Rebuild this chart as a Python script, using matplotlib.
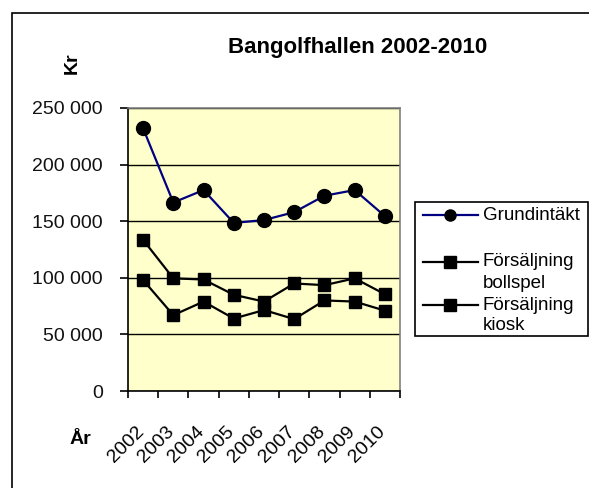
# Bangolfhallen 2002-2010

import numpy as np
import matplotlib.pyplot as plt
from matplotlib.lines import Line2D
from matplotlib.patches import Rectangle
from matplotlib.ticker import FuncFormatter
import matplotlib.transforms as mtransforms

plt.rcParams['font.family'] = ['Liberation Sans', 'DejaVu Sans']

years = ['2002', '2003', '2004', '2005', '2006', '2007', '2008', '2009', '2010']
grundintakt = [232000, 166500, 177500, 148500, 151000, 158000, 172500, 177500, 154500]
bollspel = [133500, 99500, 98500, 85000, 79000, 95000, 93500, 99500, 85500]
kiosk = [98000, 67000, 79000, 64000, 71500, 63500, 80000, 79000, 71000]

W, H = 589, 488
fig = plt.figure(figsize=(W / 100, H / 100), dpi=100)

def fx(x):
    return x / W

def fy(y):
    return 1 - y / H

# plot area in pixels: left 128, right 400, top 108, bottom 391
ax = fig.add_axes([fx(128), fy(391), fx(400) - fx(128), fy(108) - fy(391)])
ax.set_facecolor('#FFFFCC')

x = np.arange(len(years))
ax.plot(x, grundintakt, color='#000080', lw=1.6, marker='o', ms=10,
        mfc='black', mec='black', zorder=4)
ax.plot(x, bollspel, color='black', lw=1.6, marker='s', ms=9, zorder=4)
ax.plot(x, kiosk, color='black', lw=1.6, marker='s', ms=9, zorder=4)

ax.set_xlim(-0.5, len(years) - 0.5)
ax.set_ylim(0, 250000)
ax.set_yticks(np.arange(0, 250001, 50000))
ax.yaxis.set_major_formatter(FuncFormatter(lambda v, p: f'{int(v):,}'.replace(',', ' ')))
ax.grid(axis='y', color='black', lw=1)
ax.set_axisbelow(True)

ax.set_xticks(np.arange(-0.5, len(years), 1.0))
ax.set_xticklabels([])
ax.set_xticks(x, minor=True)
ax.set_xticklabels(years, minor=True, rotation=45, ha='right', va='top',
                   rotation_mode='anchor', fontsize=14)
ax.tick_params(axis='x', which='minor', length=0, pad=23)
ax.tick_params(axis='x', which='major', length=5, width=1.2, color='black')
ax.tick_params(axis='y', length=6, width=1.2, color='black', labelsize=14, pad=12)
shift = mtransforms.ScaledTranslation(-8 / 100, 0, fig.dpi_scale_trans)
for lab in ax.xaxis.get_minorticklabels():
    lab.set_transform(lab.get_transform() + shift)
for lab in ax.get_yticklabels():
    lab.set_color('#111111')

for side in ['top', 'right']:
    ax.spines[side].set_color('#808080')
    ax.spines[side].set_linewidth(1.2)
for side in ['left', 'bottom']:
    ax.spines[side].set_color('black')
    ax.spines[side].set_linewidth(1.2)

fig.text(fx(358), fy(48), 'Bangolfhallen 2002-2010', fontsize=16, fontweight='bold',
         ha='center', va='center')
fig.text(fx(72), fy(63), 'Kr', fontsize=14, fontweight='bold', rotation=90,
         ha='center', va='center')
fig.text(fx(80), fy(439), 'År', fontsize=14, fontweight='bold', ha='center', va='center')

# chart border (runs off the right and bottom edges)
fig.patches.append(Rectangle((fx(12), fy(700)), fx(800), fy(13) - fy(700),
                             transform=fig.transFigure, fill=False,
                             edgecolor='black', lw=1.2))

# legend box
fig.patches.append(Rectangle((fx(415), fy(336)), fx(588) - fx(415), fy(202) - fy(336),
                             transform=fig.transFigure, fill=False,
                             edgecolor='black', lw=1.2))
leg_rows = [(215, '#000080', 'o', ['Grundintäkt']),
            (262, 'black', 's', ['Försäljning', 'bollspel']),
            (305, 'black', 's', ['Försäljning', 'kiosk'])]
for yy, col, mk, lines in leg_rows:
    fig.lines.append(Line2D([fx(423), fx(450), fx(478)], [fy(yy)] * 3,
                            transform=fig.transFigure, color=col, lw=1.6,
                            marker=mk, markevery=[1], ms=8, mfc='black', mec='black'))
    for k, txt in enumerate(lines):
        fig.text(fx(483), fy(yy + 21 * k), txt, fontsize=13.5, ha='left', va='center')

fig.savefig('out.png', dpi=100)
